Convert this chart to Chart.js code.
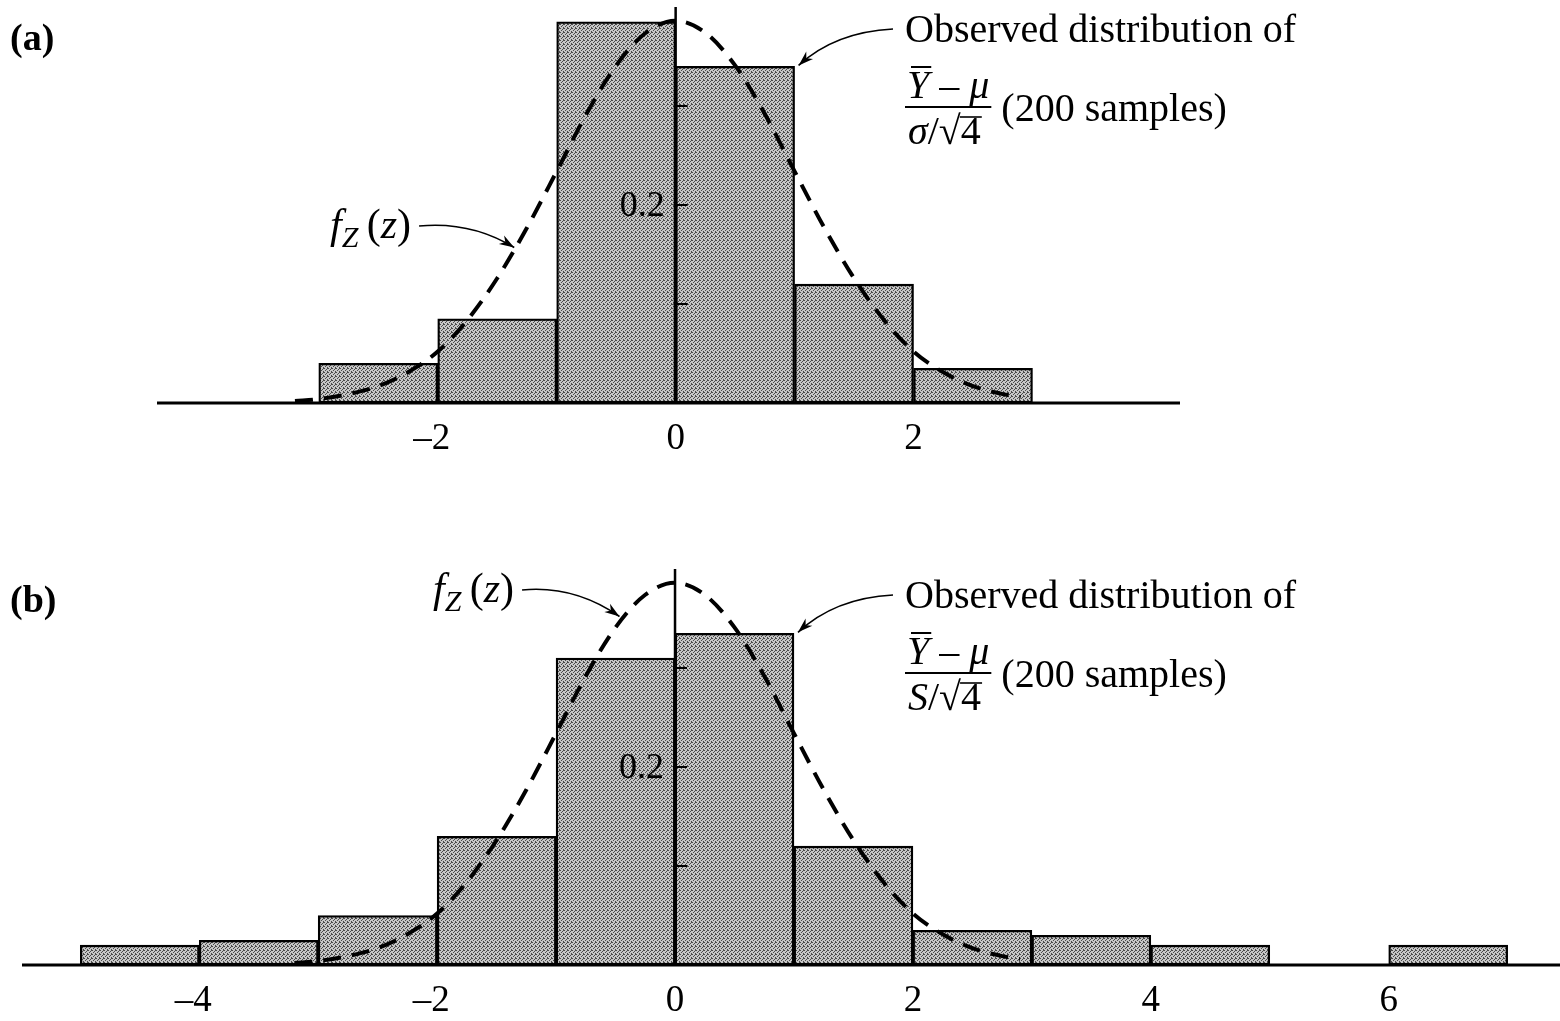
<!DOCTYPE html>
<html>
<head>
<meta charset="utf-8">
<script src="https://cdn.jsdelivr.net/npm/chart.js@4.4.1/dist/chart.umd.min.js"></script>
<style>
  html, body { margin: 0; padding: 0; background: #fff; }
  #wrap { position: relative; width: 1560px; height: 1021px; overflow: hidden; }
  .panel { position: absolute; left: 0; width: 1560px; }
  #panelA { top: 0; height: 500px; }
  #panelB { top: 510px; height: 511px; }
</style>
</head>
<body>
<div id="wrap">
  <div class="panel" id="panelA"><canvas id="chartA"></canvas></div>
  <div class="panel" id="panelB"><canvas id="chartB"></canvas></div>
</div>
<script>
// Histogram bins are 1 unit wide, each bar sits on its bin centre
const binCentersA = [-2.5, -1.5, -0.5, 0.5, 1.5, 2.5];
const densityA = [0.04, 0.085, 0.385, 0.34, 0.12, 0.035];

const binCentersB = [-4.5, -3.5, -2.5, -1.5, -0.5, 0.5, 1.5, 2.5, 3.5, 4.5, 6.5];
const densityB = [0.02, 0.025, 0.05, 0.13, 0.31, 0.335, 0.12, 0.035, 0.03, 0.02, 0.02];

// dashed f_Z(z) curve (same curve in both panels)
const curveZ = [-3.2, -3, -2.75, -2.5, -2.25, -2, -1.75, -1.5, -1.25, -1, -0.75, -0.5, -0.25,
  0, 0.25, 0.5, 0.75, 1, 1.25, 1.5, 1.75, 2, 2.25, 2.5, 2.75, 2.9];
const curveF = [0.002, 0.004, 0.009, 0.017, 0.031, 0.052, 0.084, 0.126, 0.177, 0.234, 0.292, 0.341, 0.374,
  0.386, 0.374, 0.341, 0.292, 0.234, 0.177, 0.126, 0.084, 0.052, 0.031, 0.017, 0.009, 0.006];

const xTicksA = [-2, 0, 2];
const xTicksB = [-4, -2, 0, 2, 4, 6];
const yTicks = [0.1, 0.2, 0.3];
const yTickLabels = ['', '0.2', ''];

const SERIF = '"Liberation Serif", "Times New Roman", serif';

function setFont(ctx, size, style) {
  ctx.font = (style || '') + ' ' + size + 'px ' + SERIF;
}

// draw a row of text runs: [text, size, style, dy]
function drawRuns(ctx, x, y, runs) {
  let cx = x;
  const boxes = [];
  runs.forEach(([t, size, style, dy]) => {
    setFont(ctx, size, style);
    ctx.fillText(t, cx, y + (dy || 0));
    const w = ctx.measureText(t).width;
    boxes.push({ x: cx, w: w });
    cx += w;
  });
  return { end: cx, boxes: boxes };
}

function drawArrow(ctx, x0, y0, cx, cy, x1, y1) {
  ctx.save();
  ctx.strokeStyle = '#000';
  ctx.fillStyle = '#000';
  ctx.lineWidth = 1.6;
  ctx.beginPath();
  ctx.moveTo(x0, y0);
  ctx.quadraticCurveTo(cx, cy, x1, y1);
  ctx.stroke();
  const a = Math.atan2(y1 - cy, x1 - cx);
  const len = 15, wid = 5;
  ctx.beginPath();
  ctx.moveTo(x1, y1);
  ctx.lineTo(x1 - len * Math.cos(a) + wid * Math.sin(a), y1 - len * Math.sin(a) - wid * Math.cos(a));
  ctx.lineTo(x1 - len * 0.7 * Math.cos(a), y1 - len * 0.7 * Math.sin(a));
  ctx.lineTo(x1 - len * Math.cos(a) - wid * Math.sin(a), y1 - len * Math.sin(a) + wid * Math.cos(a));
  ctx.closePath();
  ctx.fill();
  ctx.restore();
}

function stipple() {
  const c = document.createElement('canvas');
  c.width = 4; c.height = 4;
  const g = c.getContext('2d');
  g.fillStyle = '#c6c6c6';
  g.fillRect(0, 0, 4, 4);
  g.fillStyle = '#4a4a4a';
  [[0, 0], [2, 1], [1, 2], [3, 3], [3, 0]].forEach(p => g.fillRect(p[0], p[1], 1, 1));
  return g.createPattern(c, 'repeat');
}

// axes, tick labels and annotations
const figurePlugin = {
  id: 'figure',
  afterDatasetsDraw(chart, args, o) {
    const ctx = chart.ctx;
    const xs = chart.scales.x, ys = chart.scales.y;
    const area = chart.chartArea;
    const x0 = xs.getPixelForValue(0);
    const y0 = ys.getPixelForValue(0);
    ctx.save();
    ctx.fillStyle = '#000';
    ctx.strokeStyle = '#000';

    // x axis line
    ctx.lineWidth = 3;
    ctx.beginPath();
    ctx.moveTo(area.left, y0);
    ctx.lineTo(area.right, y0);
    ctx.stroke();

    // y axis through z = 0
    ctx.lineWidth = 2.5;
    ctx.beginPath();
    ctx.moveTo(x0, y0);
    ctx.lineTo(x0, ys.getPixelForValue(ys.max));
    ctx.stroke();
    ctx.lineWidth = 2;
    yTicks.forEach((v, i) => {
      const py = ys.getPixelForValue(v);
      ctx.beginPath();
      ctx.moveTo(x0 - 2, py);
      ctx.lineTo(x0 + 12, py);
      ctx.stroke();
      if (yTickLabels[i]) {
        setFont(ctx, 36, '');
        ctx.textAlign = 'right';
        ctx.textBaseline = 'middle';
        ctx.fillText(yTickLabels[i], x0 - 11, py + 2);
      }
    });

    // x tick labels
    setFont(ctx, 37, '');
    ctx.textBaseline = 'alphabetic';
    ctx.textAlign = 'center';
    o.xTicks.forEach(v => {
      const label = v < 0 ? '\u2013' + Math.abs(v) : String(v);
      ctx.fillText(label, xs.getPixelForValue(v) - (v < 0 ? 6 : 0), y0 + 46);
    });

    ctx.textAlign = 'left';
    // panel tag
    setFont(ctx, 38, 'bold');
    ctx.fillText(o.tag, 10, o.tagY);

    // f_Z(z) label and arrow
    const fz = drawRuns(ctx, o.fz[0], o.fz[1], [
      ['f', 42, 'italic'], ['Z', 30, 'italic', 9], ['\u2009(', 42, ''], ['z', 42, 'italic'], [')', 42, '']
    ]);
    drawArrow(ctx, fz.end + 8, o.fz[1] - 12, fz.end + 60, o.fz[1] - 17,
      xs.getPixelForValue(o.fzTip[0]) - 2, ys.getPixelForValue(o.fzTip[1]) - 2);

    // observed distribution label and arrow
    const ox = 905, oy = o.obsY;
    drawRuns(ctx, ox, oy, [['Observed distribution of', 40, '']]);
    drawArrow(ctx, ox - 12, oy - 13, ox - 70, oy - 10,
      xs.getPixelForValue(o.obsTip[0]) + 4, ys.getPixelForValue(o.obsTip[1]) - 1);

    const barY = oy + 65;
    const num = drawRuns(ctx, ox + 2, barY - 9, [['Y', 40, 'italic'], [' \u2013 ', 40, ''], ['\u03bc', 40, 'italic']]);
    const den = drawRuns(ctx, ox + 3, barY + 37, [[o.denom, 40, 'italic'], ['/', 40, ''], ['\u221a', 40, ''], ['4', 40, '']]);
    ctx.lineWidth = 2;
    // overline on Y
    const yb = num.boxes[0];
    ctx.beginPath();
    ctx.moveTo(yb.x + 4, barY - 40);
    ctx.lineTo(yb.x + yb.w + 2, barY - 40);
    ctx.stroke();
    // fraction bar
    const fracEnd = Math.max(num.end, den.end) + 2;
    ctx.beginPath();
    ctx.moveTo(ox, barY);
    ctx.lineTo(fracEnd, barY);
    ctx.stroke();
    // radical vinculum
    const r4 = den.boxes[3];
    ctx.lineWidth = 1.6;
    ctx.beginPath();
    ctx.moveTo(r4.x - 1, barY + 10);
    ctx.lineTo(r4.x + r4.w + 1, barY + 10);
    ctx.stroke();
    drawRuns(ctx, fracEnd + 10, barY + 14, [['(200 samples)', 40, '']]);
    ctx.restore();
  }
};

function makeChart(id, centers, dens, xTicks, xMin, xMax, pad, opts) {
  const fill = stipple();
  return new Chart(document.getElementById(id), {
    data: {
      datasets: [
        {
          type: 'line',
          data: curveZ.map((z, i) => ({ x: z, y: curveF[i] })),
          borderColor: '#000',
          borderWidth: 4,
          borderDash: [18, 11],
          pointRadius: 0,
          cubicInterpolationMode: 'monotone',
          fill: false,
          order: 0
        },
        {
          type: 'bar',
          data: centers.map((c, i) => ({ x: c, y: dens[i] })),
          backgroundColor: fill,
          borderColor: '#000',
          borderWidth: 2.3,
          borderSkipped: false,
          barPercentage: 1,
          categoryPercentage: 1,
          grouped: false,
          order: 1
        }
      ]
    },
    options: {
      responsive: true,
      maintainAspectRatio: false,
      animation: false,
      layout: { padding: pad },
      plugins: {
        legend: { display: false },
        tooltip: { enabled: false },
        figure: Object.assign({ xTicks: xTicks }, opts)
      },
      scales: {
        x: {
          type: 'linear',
          display: false,
          offset: false,
          min: xMin,
          max: xMax,
          afterBuildTicks: s => { s.ticks = xTicks.map(v => ({ value: v })); }
        },
        y: {
          type: 'linear',
          display: false,
          min: 0,
          max: 0.4
        }
      }
    },
    plugins: [figurePlugin]
  });
}

makeChart('chartA', binCentersA, densityA, xTicksA, -4.36, 4.24,
  { left: 157, right: 380, top: 7, bottom: 97 },
  { tag: '(a)', tagY: 50, fz: [330, 238], fzTip: [-1.34, 0.155], obsY: 42, obsTip: [1, 0.34], denom: '\u03c3' });

makeChart('chartB', binCentersB, densityB, xTicksB, -5.49, 7.44,
  { left: 22, right: 0, top: 59, bottom: 56 },
  { tag: '(b)', tagY: 102, fz: [433, 92], fzTip: [-0.45, 0.35], obsY: 98, obsTip: [1, 0.335], denom: 'S' });
</script>
</body>
</html>
